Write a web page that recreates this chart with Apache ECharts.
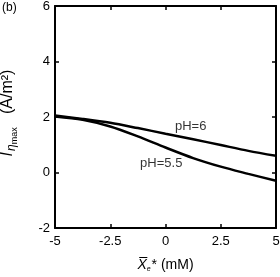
<!DOCTYPE html>
<html><head><meta charset="utf-8">
<script src="https://cdn.jsdelivr.net/npm/echarts@6/dist/echarts.min.js"></script>
<style>html,body{margin:0;padding:0;background:#fff}#c{width:280px;height:277px}</style>
</head><body><div id="c"></div>
<script>
const xValues = [-5, -3.75, -2.5, -1.25, 0, 1.25, 2.5, 3.75, 5];
const ph6 = [2.05, 1.93, 1.79, 1.60, 1.40, 1.20, 0.99, 0.78, 0.60];
const ph55 = [2.02, 1.90, 1.66, 1.30, 0.90, 0.52, 0.21, -0.05, -0.30];
const xTicks = [-5, -2.5, 0, 2.5, 5];
const yTicks = [-2, 0, 2, 4, 6];
const labelPH6 = 'pH=6';
const labelPH55 = 'pH=5.5';

const font = 'Liberation Sans, Arial, sans-serif';
const chart = echarts.init(document.getElementById('c'));
const axisCommon = {
  type: 'value',
  axisLine: {show: true, onZero: false, lineStyle: {color: '#000', width: 2}},
  axisTick: {show: true, inside: true, length: 4, lineStyle: {color: '#000', width: 1.5}},
  splitLine: {show: false}
};
chart.setOption({
  animation: false,
  grid: {left: 55, right: 4, top: 6, bottom: 49, containLabel: false, outerBoundsMode: 'none'},
  xAxis: [
    Object.assign({}, axisCommon, {min: -5, max: 5, interval: 2.5, position: 'bottom',
      axisLabel: {color: '#000', fontSize: 13, fontFamily: font, margin: 7,
        formatter: v => xTicks.includes(v) ? String(v) : ''},
      name: '{x|X̅}{e|e}{t|* (mM)}', nameLocation: 'middle', nameGap: 29,
      nameTextStyle: {rich: {
        x: {fontSize: 14, fontStyle: 'italic', fontFamily: font, color: '#000'},
        e: {fontSize: 7, fontStyle: 'italic', fontFamily: font, color: '#000', padding: [9, 1, 0, 0]},
        t: {fontSize: 14, fontFamily: font, color: '#000'}
      }}}),
    Object.assign({}, axisCommon, {min: -5, max: 5, interval: 2.5, position: 'top', axisLabel: {show: false}})
  ],
  yAxis: [
    Object.assign({}, axisCommon, {min: -2, max: 6, interval: 2, position: 'left',
      axisLabel: {color: '#000', fontSize: 13, fontFamily: font, margin: 5,
        formatter: v => yTicks.includes(v) ? String(v) : ''},
      name: '{i|I}{s|η}{m|max}{t|   (A/m²)}', nameLocation: 'middle', nameGap: 36, nameRotate: 90,
      nameTextStyle: {padding: [0, 0, 0, 8], rich: {
        i: {fontSize: 16, fontStyle: 'italic', fontFamily: font, color: '#000'},
        s: {fontSize: 12, fontStyle: 'italic', fontFamily: font, color: '#000', padding: [8, 0, 0, 1]},
        m: {fontSize: 9, fontFamily: font, color: '#000', padding: [14, 0, 0, 0]},
        t: {fontSize: 16, fontFamily: font, color: '#000'}
      }}}),
    Object.assign({}, axisCommon, {min: -2, max: 6, interval: 2, position: 'right', axisLabel: {show: false}})
  ],
  graphic: [{type: 'text', left: 2, top: 2, style: {text: '(b)', font: '12px ' + font, fill: '#000'}}],
  series: [
    {type: 'line', data: xValues.map((x, i) => [x, ph6[i]]), smooth: 0.3, symbol: 'none',
      lineStyle: {color: '#000', width: 2.5}},
    {type: 'line', data: xValues.map((x, i) => [x, ph55[i]]), smooth: 0.3, symbol: 'none',
      lineStyle: {color: '#000', width: 2.5}},
    {type: 'scatter', symbolSize: 0, silent: true,
      data: [{value: [0.43, 1.65], name: labelPH6}, {value: [-1.15, 0.31], name: labelPH55}],
      label: {show: true, position: 'right', distance: 0, formatter: p => p.name,
        color: '#000', fontSize: 13, fontFamily: font}}
  ]
});
</script></body></html>
